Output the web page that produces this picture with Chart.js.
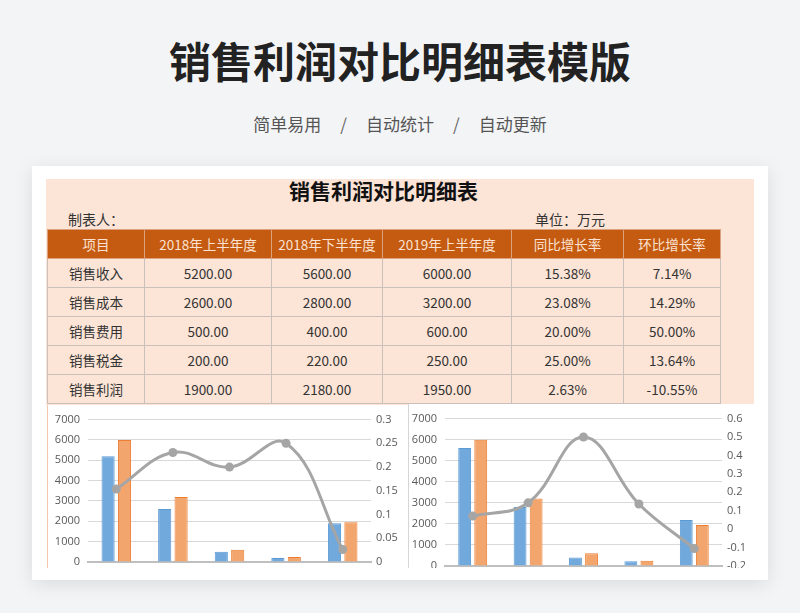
<!DOCTYPE html>
<html>
<head>
<meta charset="utf-8">
<script src="https://cdn.jsdelivr.net/npm/chart.js@4/dist/chart.umd.min.js"></script>
<style>
  body { margin: 0; width: 800px; height: 613px; background: #f3f4f6; font-family: "Noto Sans CJK SC", "Noto Sans", sans-serif; position: relative; overflow: hidden; }
  .title { position: absolute; left: 0; top: 34px; width: 800px; text-align: center; font-size: 42px; line-height: 52px; font-weight: 700; color: #222; letter-spacing: 0px; }
  .sub { position: absolute; left: 0; top: 112px; width: 800px; text-align: center; font-size: 17px; line-height: 24px; color: #555; }
  .sub .sep { margin: 0 19px; color: #666; }
  .card { position: absolute; left: 32px; top: 166px; width: 736px; height: 414px; background: #fff; box-shadow: 0 4px 18px rgba(0,0,0,0.10); }
  .peach { position: absolute; left: 46px; top: 179px; width: 708px; height: 226px; background: #fce4d6; }
  .ttl { position: absolute; left: 47px; width: 673px; top: 176px; text-align: center; font-size: 21px; line-height: 28px; font-weight: 700; color: #111; }
  .meta { position: absolute; top: 209px; font-size: 14px; line-height: 20px; color: #333; }
  table { position: absolute; left: 47px; top: 229px; border-collapse: collapse; table-layout: fixed; width: 673px; }
  td, th { height: 28px; padding: 0; border: 1px solid #c9c0bb; text-align: center; font-size: 13.5px; color: #333; font-weight: 400; }
  th { background: #c55a11; color: #fbe2d2; border-color: #dba27f; }
  .chartbox { position: absolute; background: #fff; overflow: hidden; }
</style>
</head>
<body>
<div class="title">销售利润对比明细表模版</div>
<div class="sub">简单易用<span class="sep">/</span>自动统计<span class="sep">/</span>自动更新</div>
<div class="card"></div>
<div class="peach"></div>
<div class="ttl">销售利润对比明细表</div>
<div class="meta" style="left:68px">制表人：</div>
<div class="meta" style="left:535px">单位：万元</div>
<table id="tbl">
  <colgroup><col style="width:97px"><col style="width:127px"><col style="width:111px"><col style="width:129px"><col style="width:112px"><col style="width:97px"></colgroup>
</table>
<div class="chartbox" style="left:47px; top:405px; width:358px; height:163px; border-left:1px solid #f1c6aa;">
  <canvas id="c1" width="358" height="180"></canvas>
</div>
<div class="chartbox" style="left:408px; top:404px; width:345px; height:164px; border-left:1px solid #d6d6d6;">
  <canvas id="c2" width="345" height="180"></canvas>
</div>
<script>
const headers = ['项目', '2018年上半年度', '2018年下半年度', '2019年上半年度', '同比增长率', '环比增长率'];
const items = ['销售收入', '销售成本', '销售费用', '销售税金', '销售利润'];
const h1of2018 = [5200, 2600, 500, 200, 1900];
const h2of2018 = [5600, 2800, 400, 220, 2180];
const h1of2019 = [6000, 3200, 600, 250, 1950];
const yoyRate = [0.1538, 0.2308, 0.2000, 0.2500, 0.0263];
const momRate = [0.0714, 0.1429, 0.5000, 0.1364, -0.1055];

// table
const tbl = document.getElementById('tbl');
let html = '<tr>' + headers.map(h => `<th>${h}</th>`).join('') + '</tr>';
items.forEach((name, i) => {
  html += `<tr><td>${name}</td><td>${h1of2018[i].toFixed(2)}</td><td>${h2of2018[i].toFixed(2)}</td>` +
    `<td>${h1of2019[i].toFixed(2)}</td><td>${(yoyRate[i] * 100).toFixed(2)}%</td><td>${(momRate[i] * 100).toFixed(2)}%</td></tr>`;
});
tbl.insertAdjacentHTML('beforeend', html);

const tickFont = { family: '"Open Sans", "Noto Sans", sans-serif', size: 11 };
const tickColor = '#595959';

function makeChart(id, blueData, rateData, rMin, rMax, rStep, leftW, rightW, pad) {
  const ctx = document.getElementById(id).getContext('2d');
  return new Chart(ctx, {
    type: 'bar',
    data: {
      labels: items,
      datasets: [
        {
          type: 'line', data: rateData, yAxisID: 'y1', order: 0,
          borderColor: '#a5a5a5', backgroundColor: '#a5a5a5', borderWidth: 3,
          tension: 0.4, pointRadius: 4.5, pointBackgroundColor: '#a5a5a5', pointBorderWidth: 0
        },
        {
          data: blueData, yAxisID: 'y', order: 1,
          backgroundColor: '#72a9dc', borderColor: '#5b9bd5', borderWidth: 1,
          categoryPercentage: 0.58, barPercentage: 0.8
        },
        {
          data: h1of2019, yAxisID: 'y', order: 1,
          backgroundColor: '#f3a56e', borderColor: '#ed7d31', borderWidth: 1,
          categoryPercentage: 0.58, barPercentage: 0.8
        }
      ]
    },
    options: {
      responsive: false,
      animation: false,
      layout: { padding: pad },
      plugins: { legend: { display: false }, tooltip: { enabled: false } },
      scales: {
        x: {
          grid: { display: false, drawTicks: false },
          ticks: { display: false },
          border: { color: '#bfbfbf', width: 2 },
          afterFit: s => { s.height = 0; }
        },
        y: {
          position: 'left', min: 0, max: 7000,
          ticks: { stepSize: 1000, font: tickFont, color: tickColor, padding: 8, callback: v => String(v) },
          grid: { color: '#d9d9d9', drawTicks: false },
          border: { display: false },
          afterFit: s => { s.width = leftW; }
        },
        y1: {
          position: 'right', min: rMin, max: rMax,
          ticks: {
            stepSize: rStep, font: tickFont, color: tickColor, padding: 5,
            callback: v => String(Number(v.toFixed(2)))
          },
          grid: { drawOnChartArea: false, drawTicks: false },
          border: { display: false },
          afterFit: s => { s.width = rightW; }
        }
      }
    }
  });
}

makeChart('c1', h1of2018, yoyRate, 0, 0.3, 0.05, 40, 35, { top: 14, bottom: 23, left: 0, right: 0 });
makeChart('c2', h2of2018, momRate, -0.2, 0.6, 0.1, 36, 32, { top: 11, bottom: 18, left: 0, right: 0 });
</script>
</body>
</html>
